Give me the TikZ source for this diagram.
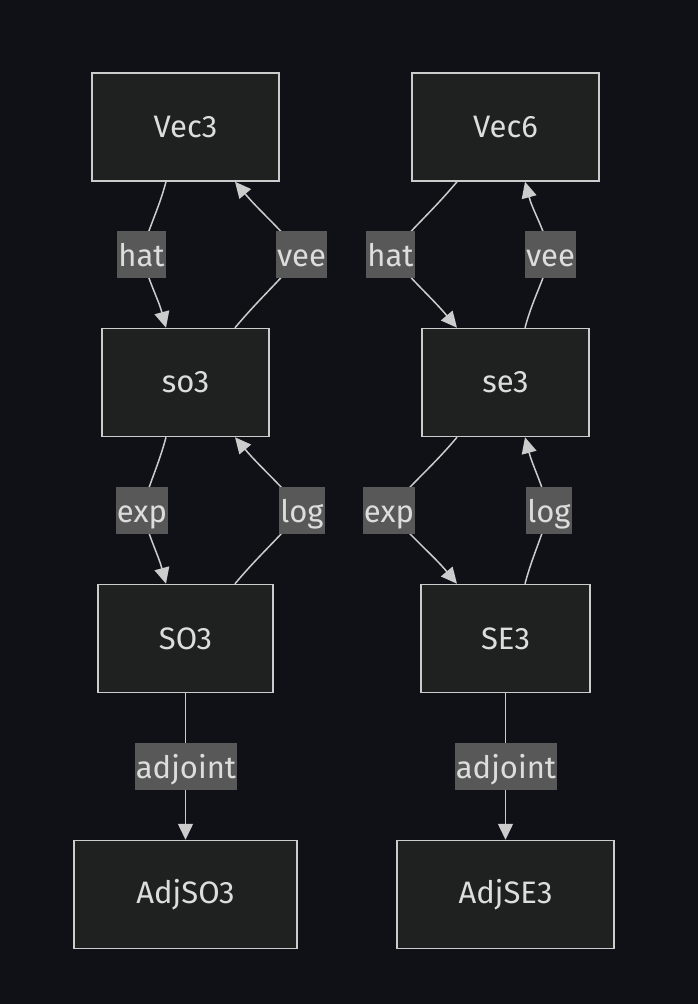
\documentclass[tikz,border=0pt]{standalone}
\usepackage{fontspec}
\setmainfont{Fira Sans}
\usetikzlibrary{arrows.meta}
\definecolor{bgc}{HTML}{0F1117}
\definecolor{nodefill}{HTML}{1F2020}
\definecolor{nodeline}{HTML}{CCCCCC}
\definecolor{lblfill}{HTML}{585858}
\definecolor{txt}{HTML}{DDDDDD}
\tikzset{
  box/.style={draw=nodeline, line width=1.5pt, fill=nodefill, text=txt, font=\fontsize{31}{33}\selectfont, minimum height=108pt, inner sep=0pt},
  lbl/.style={fill=lblfill, text=txt, font=\fontsize{31}{33}\selectfont, minimum height=47pt, text height=26pt, text depth=3pt, inner xsep=1pt, inner ysep=0pt},
  arr/.style={draw=nodeline, line width=1.5pt, -{Triangle[length=16pt,width=15pt]}},
}
\begin{document}
\begin{tikzpicture}[x=1pt,y=-1pt]
\fill[bgc] (0,0) rectangle (698,1004);
\useasboundingbox (0,0) rectangle (698,1004);
% nodes
\node[box, minimum width=187pt] (vec3) at (185.5,127) {Vec3};
\node[box, minimum width=187pt] (vec6) at (505.5,127) {Vec6};
\node[box, minimum width=167pt] (so3) at (185.5,382.5) {so3};
\node[box, minimum width=167pt] (se3) at (505.5,382.5) {se3};
\node[box, minimum width=175pt] (SO3) at (185.5,638.5) {SO3};
\node[box, minimum width=169pt] (SE3) at (505.5,638.5) {SE3};
\node[box, minimum width=223pt] (adjSO3) at (185.5,894.5) {AdjSO3};
\node[box, minimum width=217pt] (adjSE3) at (505.5,894.5) {AdjSE3};
% label anchors
\coordinate (hatL) at (141.5,254.5);
\coordinate (veeL) at (301.5,254.5);
\coordinate (hatR) at (390.5,254.5);
\coordinate (veeR) at (550.5,254.5);
\coordinate (expL) at (142,510.5);
\coordinate (logL) at (302,510.5);
\coordinate (expR) at (389,510.5);
\coordinate (logR) at (549,510.5);
\coordinate (adjL) at (186,766.5);
\coordinate (adjR) at (506,766.5);
% edges
\draw[arr] ([xshift=-19.5pt]vec3.south) to[out=-105,in=75] (hatL) to[out=-75,in=105] ([xshift=-19.5pt]so3.north);
\draw[arr] ([xshift=49.5pt]so3.north) to[out=50,in=-130] (veeL) to[out=130,in=-50] ([xshift=49.5pt]vec3.south);
\draw[arr] ([xshift=-48.5pt]vec6.south) to[out=-130,in=50] (hatR) to[out=-50,in=130] ([xshift=-48.5pt]se3.north);
\draw[arr] ([xshift=19.5pt]se3.north) to[out=75,in=-105] (veeR) to[out=105,in=-75] ([xshift=19.5pt]vec6.south);
\draw[arr] ([xshift=-19.5pt]so3.south) to[out=-105,in=75] (expL) to[out=-75,in=105] ([xshift=-19.5pt]SO3.north);
\draw[arr] ([xshift=49.5pt]SO3.north) to[out=50,in=-130] (logL) to[out=130,in=-50] ([xshift=49.5pt]so3.south);
\draw[arr] ([xshift=-48.5pt]se3.south) to[out=-130,in=50] (expR) to[out=-50,in=130] ([xshift=-48.5pt]SE3.north);
\draw[arr] ([xshift=19.5pt]SE3.north) to[out=75,in=-105] (logR) to[out=105,in=-75] ([xshift=19.5pt]se3.south);
\draw[arr] (SO3.south) -- (adjSO3.north);
\draw[arr] (SE3.south) -- (adjSE3.north);
% labels
\node[lbl] (lhatL) at (hatL) {hat};
\node[lbl] (lveeL) at (veeL) {vee};
\node[lbl] (lhatR) at (hatR) {hat};
\node[lbl] (lveeR) at (veeR) {vee};
\node[lbl] (lexpL) at (expL) {exp};
\node[lbl] (llogL) at (logL) {log};
\node[lbl] (lexpR) at (expR) {exp};
\node[lbl] (llogR) at (logR) {log};
\node[lbl] (ladjL) at (adjL) {adjoint};
\node[lbl] (ladjR) at (adjR) {adjoint};
\end{tikzpicture}
\end{document}
